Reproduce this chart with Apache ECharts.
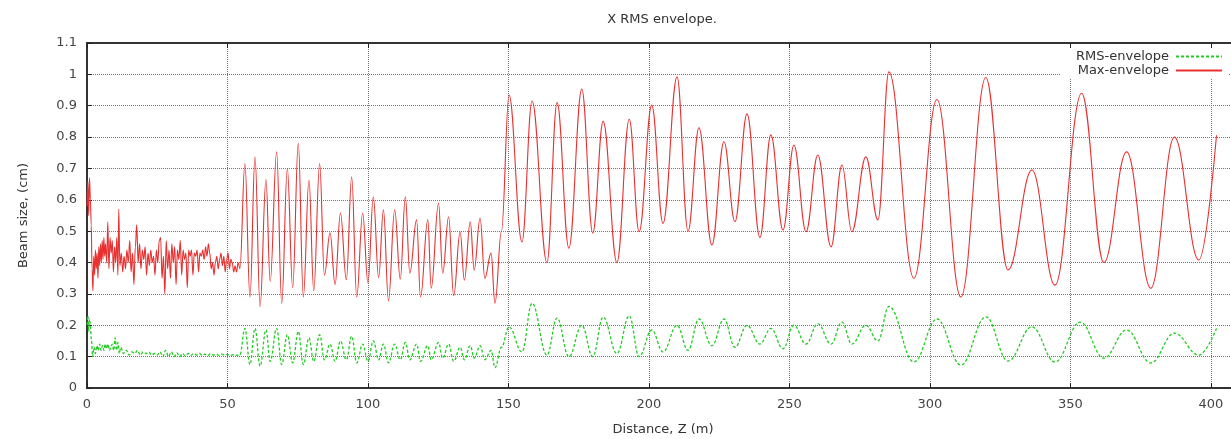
<!DOCTYPE html>
<html>
<head>
<meta charset="utf-8">
<script src="https://cdn.jsdelivr.net/npm/echarts@6/dist/echarts.min.js"></script>
<style>html,body{margin:0;padding:0;background:#fff}#c{width:1231px;height:439px}</style>
</head>
<body>
<div id="c"></div>
<script>
const titleText = 'X RMS envelope.';
const xName = 'Distance, Z (m)';
const yName = 'Beam size, (cm)';
const seriesNames = ['RMS-envelope', 'Max-envelope'];

// Max-envelope (z in m, size in cm)
const maxEnvelope = [
[0,0.58],[0.3,0.66],[0.6,0.55],[0.9,0.67],[1.2,0.6],[1.5,0.52],[1.8,0.38],[2.1,0.31],[2.4,0.42],[2.7,0.36],
[3,0.44],[3.3,0.38],[3.6,0.43],[3.9,0.35],[4.2,0.45],[4.5,0.39],[4.8,0.46],[5.1,0.4],[5.4,0.47],[5.7,0.41],
[6,0.48],[6.3,0.42],[6.6,0.46],[7,0.4],[7.4,0.53],[7.8,0.38],[8.2,0.48],[8.6,0.43],[9,0.47],[9.4,0.37],
[9.8,0.45],[10.2,0.4],[10.6,0.48],[11,0.36],[11.3,0.57],[11.7,0.39],[12.2,0.43],[12.7,0.37],[13.2,0.42],[13.7,0.38],
[14.2,0.44],[14.7,0.4],[15.2,0.47],[15.7,0.37],[16.2,0.43],[16.7,0.33],[17.2,0.45],[17.7,0.52],[18.2,0.4],[18.7,0.46],
[19.2,0.38],[19.7,0.44],[20.2,0.41],[20.7,0.45],[21.2,0.36],[21.7,0.43],[22.2,0.39],[22.7,0.44],[23.2,0.4],[23.7,0.42],
[24.2,0.36],[24.7,0.44],[25.2,0.4],[25.7,0.47],[26.2,0.48],[26.7,0.35],[27.2,0.42],[27.7,0.3],[28.2,0.47],[28.7,0.38],
[29.2,0.44],[29.7,0.35],[30.2,0.46],[30.7,0.4],[31.2,0.45],[31.7,0.33],[32.2,0.44],[32.7,0.41],[33.2,0.47],[33.7,0.36],
[34.2,0.44],[34.7,0.41],[35.2,0.43],[35.7,0.32],[36.2,0.44],[36.7,0.42],[37.2,0.44],[37.7,0.36],[38.2,0.43],[38.7,0.42],
[39.2,0.44],[39.7,0.37],[40.2,0.43],[40.7,0.42],[41.2,0.44],[41.7,0.41],[42.2,0.45],[42.7,0.42],[43.2,0.46],[43.7,0.43],
[44.2,0.38],[44.7,0.4],[45.2,0.36],[45.7,0.4],[46.2,0.42],[46.7,0.38],[47.2,0.41],[47.7,0.43],[48.2,0.39],[48.7,0.42],
[49.2,0.37],[49.7,0.41],[50.2,0.43],[50.7,0.38],[51.2,0.41],[51.7,0.4],[52.2,0.37],[52.7,0.39],[53.2,0.37],[53.8,0.4],
[54.4,0.38],[56.2,0.716],[58,0.29],[59.8,0.737],[61.6,0.26],[63.7,0.665],[65.2,0.34],[67.5,0.753],[69.3,0.27],[71.3,0.70],
[73.2,0.32],[75.2,0.78],[77,0.29],[79,0.663],[80.7,0.31],[82.8,0.716],[84.5,0.36],[86.5,0.495],[88.3,0.33],[90.2,0.558],
[92.3,0.345],[94.2,0.673],[96,0.29],[98.1,0.558],[100,0.335],[101.9,0.61],[103.8,0.352],[105.5,0.568],[107.3,0.278],[109.5,0.568],
[111.5,0.347],[113.3,0.61],[114.9,0.366],[117.3,0.536],[118.7,0.29],[121.3,0.536],[122.5,0.318],[125.1,0.59],[126.6,0.366],[128.7,0.546],
[130.5,0.294],[132.8,0.498],[134.3,0.344],[136.4,0.53],[137.8,0.376],[139.9,0.542],[141.6,0.35],[143.8,0.43],[145.2,0.27],[147.5,0.5],
[150.2,0.934],[154.8,0.466],[158.4,0.915],[163.7,0.40],[167.3,0.91],[171.5,0.446],[176.1,0.953],[180,0.494],[183.7,0.85],[188.6,0.40],
[193,0.857],[196.5,0.498],[201,0.902],[205,0.525],[210,0.992],[213.9,0.50],[217.8,0.83],[222.4,0.456],[226.7,0.785],[230.6,0.53],
[234.9,0.874],[239.5,0.48],[243.4,0.807],[247.7,0.504],[251.6,0.775],[255.9,0.498],[260.1,0.743],[264.8,0.45],[268.7,0.711],[272.2,0.498],
[277.2,0.737],[281.5,0.536],[285.4,1.008],[294.3,0.35],[302.5,0.92],[311,0.29],[319.9,0.99],[327.8,0.376],[336.3,0.695],[344.5,0.328],
[354,0.94],[361.9,0.40],[370,0.753],[378.6,0.318],[387,0.80],[395.7,0.408],[402,0.806]
];

// RMS-envelope (z in m, size in cm)
const rmsEnvelope = [
[0,0.2],[0.3,0.23],[0.6,0.18],[0.9,0.22],[1.2,0.2],[1.6,0.15],[2,0.1],[2.5,0.13],[3,0.11],[3.5,0.135],
[4,0.12],[4.5,0.14],[5,0.12],[5.5,0.135],[6,0.12],[6.5,0.14],[7,0.125],[7.5,0.14],[8,0.12],[8.5,0.13],
[9,0.14],[9.5,0.12],[10,0.16],[10.5,0.12],[11,0.145],[11.5,0.11],[12,0.13],[13,0.11],[14,0.12],[15,0.105],
[16,0.115],[17,0.11],[18,0.12],[19,0.105],[20,0.115],[21,0.11],[22,0.115],[23,0.105],[24,0.11],[25,0.105],
[26,0.115],[27,0.1],[28,0.12],[29,0.1],[30,0.115],[31,0.1],[32,0.112],[33,0.1],[34,0.11],[35,0.102],
[36,0.11],[37,0.104],[38,0.11],[39,0.105],[40,0.11],[41,0.104],[42,0.108],[43,0.103],[44,0.11],[45,0.105],
[46,0.108],[47,0.104],[48,0.108],[49,0.105],[50,0.107],[51,0.104],[52,0.106],[53,0.104],[54.4,0.105],
[56.2,0.19],[58,0.075],[59.8,0.19],[61.6,0.07],[63.7,0.185],[65.2,0.085],[67.5,0.19],[69.3,0.075],[71.3,0.17],[73.2,0.08],
[75.2,0.18],[77,0.075],[79,0.16],[80.7,0.085],[82.8,0.17],[84.5,0.09],[86.5,0.14],[88.3,0.085],[90.2,0.15],[92.3,0.09],
[94.2,0.165],[96,0.08],[98.1,0.14],[100,0.085],[101.9,0.15],[103.8,0.09],[105.5,0.14],[107.3,0.08],[109.5,0.14],[111.5,0.09],
[113.3,0.145],[114.9,0.09],[117.3,0.14],[118.7,0.085],[121.3,0.135],[122.5,0.09],[125.1,0.145],[126.6,0.095],[128.7,0.14],[130.5,0.085],
[132.8,0.13],[134.3,0.09],[136.4,0.135],[137.8,0.095],[139.9,0.135],[141.6,0.09],[143.8,0.12],[145.2,0.065],[147.5,0.13],
[150.2,0.195],[154.8,0.115],[158.4,0.27],[163.7,0.105],[167.3,0.223],[171.5,0.10],[176.1,0.20],[180,0.10],[183.7,0.226],[188.6,0.11],
[193,0.23],[196.5,0.10],[201,0.185],[205,0.115],[210,0.20],[213.9,0.12],[217.8,0.22],[222.4,0.135],[226.7,0.22],[230.6,0.13],
[234.9,0.20],[239.5,0.14],[243.4,0.19],[247.7,0.125],[251.6,0.2],[255.9,0.14],[260.1,0.205],[264.8,0.14],[268.7,0.21],[272.2,0.14],
[277.2,0.2],[281.5,0.15],[285.4,0.26],[294.3,0.083],[302.5,0.22],[311,0.073],[319.9,0.227],[327.8,0.086],[336.3,0.195],[344.5,0.083],
[353.5,0.21],[361.9,0.095],[370,0.185],[378.6,0.08],[387,0.175],[395.7,0.105],[402,0.19]
];

const FONT = '"DejaVu Sans", "Liberation Sans", sans-serif';
const FS = 13;
const gridLine = { show: true, lineStyle: { color: '#777', width: 1, type: [1, 1] } };

const chart = echarts.init(document.getElementById('c'), null, { renderer: 'canvas' });
chart.setOption({
  animation: false,
  backgroundColor: '#fff',
  title: {
    text: titleText, left: 662, top: 13, padding: 0, textAlign: 'center',
    textStyle: { fontFamily: FONT, fontSize: FS, fontWeight: 'normal', color: '#333' }
  },
  grid: {
    left: 87, top: 43, bottom: 51, right: -8,
    outerBoundsMode: 'none', containLabel: false,
    show: true, borderColor: '#333', borderWidth: 1.5, backgroundColor: 'transparent'
  },
  legend: {
    orient: 'vertical', right: 2, top: 48, align: 'right',
    itemWidth: 46, itemHeight: 8, itemGap: 1,
    padding: [2, 6, 2, 16], backgroundColor: '#fff',
    itemStyle: { opacity: 0 },
    textStyle: { fontFamily: FONT, fontSize: FS, color: '#333', padding: [0, 2, 0, 0] },
    data: seriesNames
  },
  xAxis: [{
    type: 'value', min: 0, max: 410, interval: 50,
    name: xName, nameLocation: 'middle', nameGap: 35,
    nameTextStyle: { fontFamily: FONT, fontSize: FS, color: '#333' },
    axisLine: { show: true, lineStyle: { color: '#333', width: 2 } },
    axisTick: { show: true, inside: true, length: 5, lineStyle: { color: '#222' } },
    axisLabel: { fontFamily: FONT, fontSize: FS, color: '#444', margin: 10, showMaxLabel: false,
      formatter: v => (v % 50 === 0 ? String(v) : '') },
    splitLine: gridLine
  }, {
    type: 'value', min: 0, max: 410, interval: 50, position: 'top',
    axisLine: { show: true, lineStyle: { color: '#333', width: 2 } },
    axisTick: { show: true, inside: true, length: 5, lineStyle: { color: '#222' } },
    axisLabel: { show: false }, splitLine: { show: false }
  }],
  yAxis: {
    type: 'value', min: 0, max: 1.1, interval: 0.1,
    name: yName, nameLocation: 'middle', nameGap: 57, nameRotate: 90,
    nameTextStyle: { fontFamily: FONT, fontSize: FS, color: '#333' },
    axisLine: { show: true, lineStyle: { color: '#333', width: 2 } },
    axisTick: { show: true, inside: true, length: 5, lineStyle: { color: '#222' } },
    axisLabel: { fontFamily: FONT, fontSize: FS, color: '#444', margin: 10,
      formatter: v => String(Math.round(v * 10) / 10) },
    splitLine: gridLine
  },
  series: [{
    name: seriesNames[0], type: 'line', data: rmsEnvelope, symbol: 'none',
    smooth: 0.4, smoothMonotone: 'x', z: 3,
    lineStyle: { color: '#22cc22', width: 1.3, type: [3, 2] },
    itemStyle: { color: '#22cc22' }
  }, {
    name: seriesNames[1], type: 'line', data: maxEnvelope, symbol: 'none',
    smooth: 0.4, smoothMonotone: 'x', z: 2,
    lineStyle: { color: '#e83030', width: 1.1 },
    itemStyle: { color: '#e83030' }
  }]
});
</script>
</body>
</html>
